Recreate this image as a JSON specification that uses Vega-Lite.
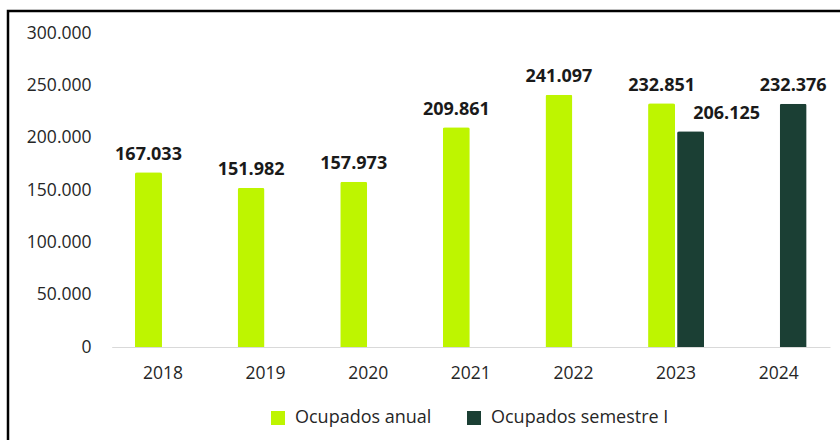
{
  "$schema": "https://vega.github.io/schema/vega-lite/v6.json",
  "autosize": {"type": "none"},
  "padding": {"left": 8, "top": 11, "right": 0, "bottom": 0},
  "width": 845,
  "height": 440,
  "background": "white",
  "config": {
    "locale": {"number": {"decimal": ",", "thousands": ".", "grouping": [3], "currency": ["", ""]}},
    "view": {"stroke": "black", "strokeWidth": 2.5},
    "font": "Open Sans"
  },
  "data": {
    "values": [
      {"year": "2018", "serie": "Ocupados anual", "value": 167033},
      {"year": "2019", "serie": "Ocupados anual", "value": 151982},
      {"year": "2020", "serie": "Ocupados anual", "value": 157973},
      {"year": "2021", "serie": "Ocupados anual", "value": 209861},
      {"year": "2022", "serie": "Ocupados anual", "value": 241097},
      {"year": "2023", "serie": "Ocupados anual", "value": 232851},
      {"year": "2023", "serie": "Ocupados semestre I", "value": 206125},
      {"year": "2024", "serie": "Ocupados semestre I", "value": 232376}
    ]
  },
  "encoding": {
    "x": {
      "field": "year", "type": "nominal",
      "scale": {"range": [103.7, 822], "paddingInner": 0.454, "paddingOuter": 0.227},
      "axis": {
        "title": null, "labelAngle": 0, "ticks": false, "tickSize": 0,
        "labelPadding": 17, "offset": -104,
        "domainColor": "#d9d9d9", "domainWidth": 1.2,
        "labelFontSize": 17.5, "labelColor": "#262626", "labelFont": "Open Sans"
      }
    },
    "xOffset": {
      "field": "serie", "type": "nominal",
      "scale": {"domain": ["Ocupados anual", "Ocupados semestre I"], "paddingInner": 0.07, "paddingOuter": 0}
    },
    "y": {
      "field": "value", "type": "quantitative",
      "scale": {"domain": [0, 300000], "range": [336, 22], "nice": false},
      "axis": {
        "title": null, "values": [0, 50000, 100000, 150000, 200000, 250000, 300000],
        "format": ",d", "grid": false, "domain": false, "ticks": false, "tickSize": 0,
        "labelPadding": 0, "offset": -83,
        "labelFontSize": 17.5, "labelColor": "#262626", "labelFont": "Open Sans"
      }
    }
  },
  "layer": [
    {
      "mark": {"type": "bar", "cornerRadiusTopLeft": 2, "cornerRadiusTopRight": 2},
      "encoding": {
        "color": {
          "field": "serie", "type": "nominal",
          "scale": {"domain": ["Ocupados anual", "Ocupados semestre I"], "range": ["#bef500", "#1b3f34"]},
          "legend": {
            "title": null, "orient": "none", "direction": "horizontal",
            "legendX": 261, "legendY": 398, "padding": 0,
            "symbolType": "square", "symbolSize": 196, "symbolStrokeWidth": 0,
            "labelOffset": 8, "columnPadding": 33, "labelLimit": 400,
            "labelFontSize": 18, "labelColor": "#262626", "labelFont": "Open Sans"
          }
        }
      }
    },
    {
      "transform": [{"filter": "!(datum.year == '2023' && datum.serie == 'Ocupados semestre I')"}],
      "mark": {"type": "text", "baseline": "alphabetic", "dy": -12.5, "fontSize": 18, "fontWeight": "bold", "color": "#1a1a1a", "font": "Open Sans"},
      "encoding": {"text": {"field": "value", "type": "quantitative", "format": ",d"}}
    },
    {
      "transform": [{"filter": "datum.year == '2023' && datum.serie == 'Ocupados semestre I'"}],
      "mark": {"type": "text", "baseline": "alphabetic", "dy": -12, "dx": 36, "fontSize": 18, "fontWeight": "bold", "color": "#1a1a1a", "font": "Open Sans"},
      "encoding": {"text": {"field": "value", "type": "quantitative", "format": ",d"}}
    }
  ]
}
